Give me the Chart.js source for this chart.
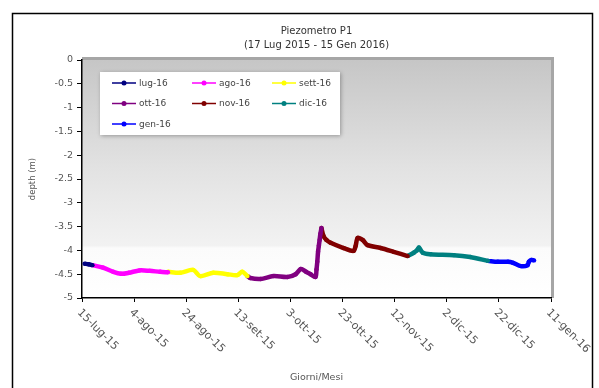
<!DOCTYPE html>
<html>
<head>
<meta charset="utf-8">
<script src="https://cdn.jsdelivr.net/npm/chart.js@4.4.1/dist/chart.umd.min.js"></script>
<style>
  html, body { margin: 0; padding: 0; background: #fff; }
  #wrap { width: 599px; height: 388px; }
</style>
</head>
<body>
<div id="wrap"><canvas id="chart" width="599" height="388"></canvas></div>
<script>
// days counted from 15-lug-15, depth in metres
const tickLabels = ['15-lug-15', '4-ago-15', '24-ago-15', '13-set-15', '3-ott-15', '23-ott-15', '12-nov-15', '2-dic-15', '22-dic-15', '11-gen-16'];
const seriesNames = ['lug-16', 'ago-16', 'sett-16', 'ott-16', 'nov-16', 'dic-16', 'gen-16'];
const seriesColors = ['#000080', '#ff00ff', '#ffff00', '#800080', '#800000', '#008080', '#0000ff'];

const lugDays = [1, 2.5, 4];
const lugDepth = [-4.28, -4.29, -4.31];
const agoDays = [4, 8, 12, 15, 18, 22, 26, 30, 33];
const agoDepth = [-4.31, -4.36, -4.45, -4.49, -4.47, -4.42, -4.43, -4.45, -4.46];
const setDays = [33, 37.7, 42.7, 45.4, 50.4, 55.8, 59.6, 61.5, 63.5];
const setDepth = [-4.45, -4.47, -4.41, -4.54, -4.47, -4.50, -4.52, -4.45, -4.54];
const ottDays = [63.5, 64.6, 68.5, 73.5, 78.8, 82, 84, 86, 87.7, 89.6, 90, 90.3, 90.6, 90.9, 91.2, 91.5, 91.9];
const ottDepth = [-4.54, -4.58, -4.60, -4.54, -4.56, -4.50, -4.39, -4.45, -4.50, -4.56, -4.40, -4.24, -4.03, -3.90, -3.78, -3.65, -3.53];
const novDays = [91.9, 92.7, 93.8, 95.4, 100.4, 104.2, 105, 105.8, 107.7, 109.6, 114.6, 119.6, 125];
const novDepth = [-3.53, -3.70, -3.78, -3.84, -3.95, -4.01, -3.91, -3.74, -3.78, -3.89, -3.95, -4.03, -4.12];
const dicDays = [125, 127.3, 128.5, 129.3, 130.8, 133.8, 142.7, 149, 155.8];
const dicDepth = [-4.12, -4.05, -4.00, -3.94, -4.05, -4.08, -4.10, -4.14, -4.22];
const genDays = [155.8, 159.6, 163.5, 165.4, 168.5, 171, 171.5, 172.5, 173.5];
const genDepth = [-4.22, -4.24, -4.24, -4.26, -4.33, -4.31, -4.24, -4.20, -4.21];

const allDays = [lugDays, agoDays, setDays, ottDays, novDays, dicDays, genDays];
const allDepth = [lugDepth, agoDepth, setDepth, ottDepth, novDepth, dicDepth, genDepth];

const datasets = seriesNames.map((name, i) => ({
  label: name,
  data: allDays[i].map((d, j) => ({ x: d, y: allDepth[i][j] })),
  borderColor: seriesColors[i],
  backgroundColor: seriesColors[i],
  borderWidth: 4.5,
  pointRadius: 2.2,
  pointBorderWidth: 0,
  tension: 0.3
}));

const FONT = '"DejaVu Sans", sans-serif';

const decor = {
  id: 'decor',
  beforeDraw(chart) {
    const { ctx, chartArea: a } = chart;
    ctx.save();
    ctx.fillStyle = '#fff';
    ctx.fillRect(0, 0, chart.width, chart.height);
    ctx.strokeStyle = '#000';
    ctx.lineWidth = 1.5;
    ctx.strokeRect(12.5, 13.5, 580, 381);
    // plot frame
    ctx.fillStyle = '#a6a6a6';
    ctx.fillRect(a.left, a.top - 3, a.width + 3, a.height + 3);
    const g = ctx.createLinearGradient(0, a.top, 0, a.bottom);
    g.addColorStop(0, '#c6c6c6');
    g.addColorStop(0.45, '#e2e2e2');
    g.addColorStop(0.78, '#f2f2f2');
    g.addColorStop(0.79, '#fbfbfb');
    g.addColorStop(1, '#ffffff');
    ctx.fillStyle = g;
    ctx.fillRect(a.left, a.top, a.width, a.height);
    ctx.restore();
  },
  afterDraw(chart) {
    const { ctx, chartArea: a } = chart;
    const cx = (a.left + a.right) / 2;
    ctx.save();
    // title
    ctx.fillStyle = '#333';
    ctx.font = '10px ' + FONT;
    ctx.textAlign = 'center';
    ctx.textBaseline = 'middle';
    ctx.fillText('Piezometro P1', cx, 31);
    ctx.fillText('(17 Lug 2015 - 15 Gen 2016)', cx, 45);

    // x tick labels, rotated down-right
    ctx.fillStyle = '#555';
    ctx.font = '11px ' + FONT;
    ctx.textAlign = 'left';
    tickLabels.forEach((t, i) => {
      const px = chart.scales.x.getPixelForValue(i * 20);
      ctx.save();
      ctx.translate(px - 3, a.bottom + 13);
      ctx.rotate(Math.PI / 4);
      ctx.fillText(t, 0, 0);
      ctx.restore();
    });

    // axis titles
    ctx.font = '9.5px ' + FONT;
    ctx.textAlign = 'center';
    ctx.fillText('Giorni/Mesi', cx, 378);
    ctx.save();
    ctx.translate(33, (a.top + a.bottom) / 2);
    ctx.rotate(-Math.PI / 2);
    ctx.font = '8.5px ' + FONT;
    ctx.fillText('depth (m)', 0, 0);
    ctx.restore();

    // legend box
    ctx.save();
    ctx.shadowColor = 'rgba(0,0,0,0.3)';
    ctx.shadowBlur = 4;
    ctx.shadowOffsetX = 1;
    ctx.shadowOffsetY = 1;
    ctx.fillStyle = '#fff';
    ctx.fillRect(100, 72, 240, 63);
    ctx.restore();
    ctx.font = '9px ' + FONT;
    ctx.textAlign = 'left';
    ctx.textBaseline = 'middle';
    seriesNames.forEach((name, i) => {
      const x0 = 112 + (i % 3) * 80;
      const y = 83 + Math.floor(i / 3) * 20.5;
      ctx.strokeStyle = seriesColors[i];
      ctx.lineWidth = 1.5;
      ctx.beginPath();
      ctx.moveTo(x0, y);
      ctx.lineTo(x0 + 24, y);
      ctx.stroke();
      ctx.fillStyle = seriesColors[i];
      ctx.beginPath();
      ctx.arc(x0 + 12, y, 2.5, 0, Math.PI * 2);
      ctx.fill();
      ctx.fillStyle = '#444';
      ctx.fillText(name, x0 + 27, y + 0.5);
    });
    ctx.restore();
  }
};

new Chart(document.getElementById('chart'), {
  type: 'line',
  data: { datasets },
  options: {
    responsive: false,
    animation: false,
    layout: { padding: { top: 60, right: 48, bottom: 0, left: 0 } },
    plugins: { legend: { display: false }, title: { display: false }, tooltip: { enabled: false } },
    scales: {
      x: {
        type: 'linear',
        min: 0,
        max: 180,
        ticks: { stepSize: 20, display: false },
        grid: { drawOnChartArea: false, drawTicks: true, tickLength: 4, color: '#000' },
        border: { color: '#000', width: 1.5 },
        afterFit(s) { s.height = 90; }
      },
      y: {
        min: -5,
        max: 0,
        ticks: {
          stepSize: 0.5,
          color: '#555',
          padding: 4,
          font: { family: FONT, size: 9.5 },
          callback: v => String(Math.round(v * 10) / 10)
        },
        grid: { drawOnChartArea: false, drawTicks: true, tickLength: 5, color: '#000' },
        border: { color: '#000', width: 1.5 },
        afterFit(s) { s.width = 82; }
      }
    }
  },
  plugins: [decor]
});
</script>
</body>
</html>
